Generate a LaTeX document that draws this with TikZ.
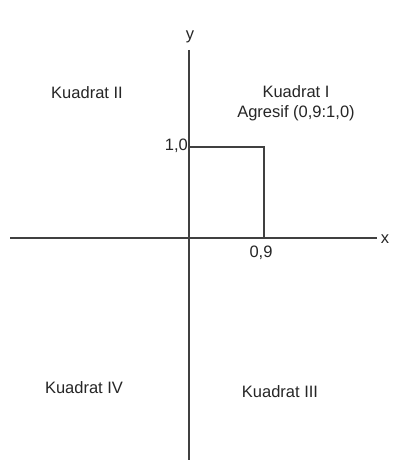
\documentclass[tikz,border=0pt]{standalone}
\usepackage{fontspec}
\setmainfont{Liberation Sans}
\begin{document}
\begin{tikzpicture}[x=1pt,y=-1pt,
  axis/.style={draw=black!75,line width=2pt},
  box/.style={draw=black!75,line width=1.5pt},
  lbl/.style={font=\fontsize{16.5}{18}\selectfont,text=black!85,inner sep=0pt}]
\useasboundingbox[fill=white] (0,0) rectangle (402,476);
\coordinate (xl) at (10,238);
\coordinate (xr) at (377,238);
\coordinate (yt) at (189,50);
\coordinate (yb) at (189,460);
\coordinate (o) at (189,238);
\coordinate (p) at (264,147);
\draw[axis] (xl) -- (xr);
\draw[axis] (yt) -- (yb);
\draw[box] (o |- p) -- (p) -- (p |- o);
\node[lbl] (xlab) at (385,239) {x};
\node[lbl] (ylab) at (190,37) {y};
\node[lbl,anchor=east] (one) at (188,146) {1,0};
\node[lbl] (nine) at (261,253) {0,9};
\node[lbl,align=center] (q1) at (296,103) {Kuadrat I\\[2pt]Agresif (0,9:1,0)};
\node[lbl] (q2) at (87,93) {Kuadrat II};
\node[lbl] (q4) at (84,388) {Kuadrat IV};
\node[lbl] (q3) at (280,392) {Kuadrat III};
\end{tikzpicture}
\end{document}
